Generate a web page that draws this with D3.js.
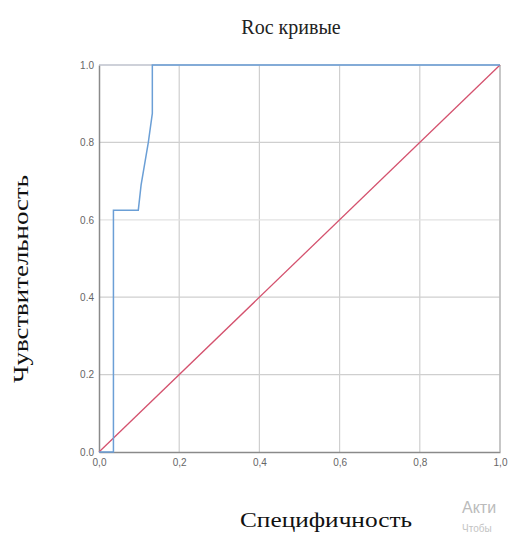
<!DOCTYPE html>
<html>
<head>
<meta charset="utf-8">
<script src="https://cdn.jsdelivr.net/npm/d3@7/dist/d3.min.js"></script>
<style>
  html, body { margin: 0; padding: 0; background: #fff; }
  svg { display: block; }
</style>
</head>
<body>
<svg id="chart" width="529" height="536"></svg>
<script>
// ROC curve points: 1 - specificity (x) and sensitivity (y)
const rocFpr = [0, 0.036, 0.036, 0.098, 0.105, 0.114, 0.123, 0.133, 0.133, 1];
const rocTpr = [0, 0, 0.625, 0.625, 0.69, 0.745, 0.80, 0.875, 1, 1];
// Reference diagonal
const diagX = [0, 1];
const diagY = [0, 1];
// Tick values and their labels
const tickValues = [0, 0.2, 0.4, 0.6, 0.8, 1.0];
const xTickLabels = ["0,0", "0,2", "0,4", "0,6", "0,8", "1,0"];
const yTickLabels = ["0.0", "0.2", "0.4", "0.6", "0.8", "1.0"];

const svg = d3.select("#chart");
const m = { left: 99, right: 500, top: 65, bottom: 452 };

const x = d3.scaleLinear().domain([0, 1]).range([m.left, m.right]);
const y = d3.scaleLinear().domain([0, 1]).range([m.bottom, m.top]);

// Grid lines
const grid = svg.append("g");
grid.selectAll("line.v").data(tickValues.slice(1)).join("line")
  .attr("x1", d => x(d)).attr("x2", d => x(d))
  .attr("y1", y(0)).attr("y2", y(1))
  .attr("stroke", "#cfcfcf").attr("stroke-width", 1.2);
grid.selectAll("line.h").data(tickValues.slice(1)).join("line")
  .attr("y1", d => y(d)).attr("y2", d => y(d))
  .attr("x1", x(0)).attr("x2", x(1))
  .attr("stroke", d => d === 0.6 ? "#e2e2e2" : "#cfcfcf").attr("stroke-width", 1.2);

// Axes
const xAxis = d3.axisBottom(x).tickValues(tickValues).tickSize(0)
  .tickFormat((d, i) => xTickLabels[i]);
const gx = svg.append("g").attr("transform", `translate(0,${m.bottom})`).call(xAxis);
gx.select(".domain").attr("stroke", "#8a8a8a").attr("stroke-width", 1.5);
gx.selectAll("text").attr("dy", "1.05em")
  .attr("font-family", "Liberation Sans, Arial, sans-serif")
  .attr("font-size", 10).attr("fill", "#666");

const yAxis = d3.axisLeft(y).tickValues(tickValues).tickSize(0)
  .tickFormat((d, i) => yTickLabels[i]);
const gy = svg.append("g").attr("transform", `translate(${m.left},0)`).call(yAxis);
gy.select(".domain").attr("stroke", "#8a8a8a").attr("stroke-width", 1.5);
gy.selectAll("text").attr("x", -5)
  .attr("font-family", "Liberation Sans, Arial, sans-serif")
  .attr("font-size", 10).attr("fill", "#666");

// Right and top border
svg.append("line")
  .attr("x1", x(1)).attr("x2", x(1)).attr("y1", y(0)).attr("y2", y(1))
  .attr("stroke", "#b5b5b5").attr("stroke-width", 1.2);
svg.append("line")
  .attr("x1", x(0)).attr("x2", x(1)).attr("y1", y(1)).attr("y2", y(1))
  .attr("stroke", "#b5bccb").attr("stroke-width", 1.2);

// Diagonal reference line
const line = d3.line().x(d => x(d[0])).y(d => y(d[1]));
svg.append("path")
  .datum(d3.zip(diagX, diagY))
  .attr("d", line)
  .attr("fill", "none")
  .attr("stroke", "#d4526e")
  .attr("stroke-width", 1.3);

// ROC curve
svg.append("path")
  .datum(d3.zip(rocFpr, rocTpr))
  .attr("d", line)
  .attr("fill", "none")
  .attr("stroke", "#6b9fd6")
  .attr("stroke-width", 1.5);

// Title
svg.append("text")
  .attr("x", 291).attr("y", 34)
  .attr("text-anchor", "middle")
  .attr("font-family", "Liberation Serif, Times New Roman, serif")
  .attr("font-size", 20).attr("fill", "#222")
  .text("Roc кривые");

// Axis titles
svg.append("text")
  .attr("x", 326).attr("y", 527)
  .attr("text-anchor", "middle")
  .attr("font-family", "Liberation Serif, Times New Roman, serif")
  .attr("font-size", 21).attr("fill", "#111")
  .attr("textLength", 172).attr("lengthAdjust", "spacingAndGlyphs")
  .text("Специфичность");

svg.append("text")
  .attr("transform", "translate(28,279) rotate(-90)")
  .attr("text-anchor", "middle")
  .attr("font-family", "Liberation Serif, Times New Roman, serif")
  .attr("font-size", 22).attr("fill", "#111")
  .attr("textLength", 208).attr("lengthAdjust", "spacingAndGlyphs")
  .text("Чувствительность");

// System notice in the corner
svg.append("text")
  .attr("x", 462).attr("y", 513)
  .attr("font-family", "Liberation Sans, Arial, sans-serif")
  .attr("font-size", 16).attr("fill", "#bbb")
  .text("Акти");
svg.append("text")
  .attr("x", 462).attr("y", 532)
  .attr("font-family", "Liberation Sans, Arial, sans-serif")
  .attr("font-size", 10).attr("fill", "#c4c4c4")
  .text("Чтобы");
</script>
</body>
</html>
